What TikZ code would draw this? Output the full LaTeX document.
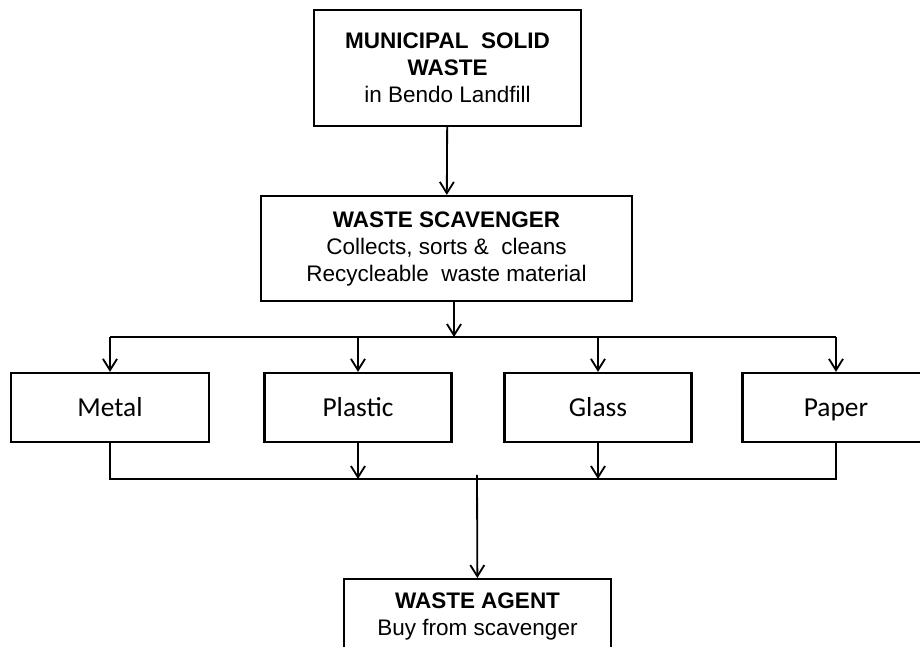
\documentclass[tikz,border=0pt]{standalone}
\usepackage{fontspec}
\setmainfont{Liberation Sans}
\newfontfamily\calibri{Carlito}
\usetikzlibrary{arrows.meta}
\tikzset{
  box/.style={draw, line width=1.6pt, inner sep=0pt, align=center,
    font=\fontsize{16}{19.2}\selectfont},
  bin/.style={draw, line width=1.6pt, inner sep=0pt, minimum width=4.675cm,
    minimum height=1.725cm, text height=12.6pt, text depth=0pt,
    font=\calibri\fontsize{19.5}{23}\selectfont},
  arr/.style={line width=1.3pt, -{Straight Barb[length=8pt,width=10pt,line width=1.3pt]}},
  bus/.style={line width=1.3pt}
}
\begin{document}
\begin{tikzpicture}[x=0.025cm, y=-0.025cm]
        \useasboundingbox (0,0) rectangle (920,646);
        \clip (0,0) rectangle (920,646);

        \node [box, minimum width=6.675cm, minimum height=2.9cm] (msw) at (447.5,68)
          {\textbf{MUNICIPAL~~SOLID}\\\textbf{WASTE}\\in Bendo Landfill};
        \node [box, minimum width=9.275cm, minimum height=2.625cm] (scav) at (446.5,248.5)
          {\textbf{WASTE SCAVENGER}\\Collects, sorts \&~~cleans\\Recycleable~~waste material};

        \node [bin, minimum width=4.95cm] (metal) at (110,407.5) {Metal};
        \node [bin] (plastic) at (358,407.5) {Plastic};
        \node [bin] (glass) at (598,407.5) {Glass};
        \node [bin] (paper) at (836,407.5) {Paper};

        \node [box, minimum width=6.675cm, inner ysep=10pt, anchor=north] (agent) at (477.5,578)
          {\textbf{WASTE AGENT}\\Buy from scavenger};

        \coordinate (split) at (454,337);
        \coordinate (join) at (477,479);

        \draw [arr] (msw) -- (scav);
        \draw [arr] (scav.south -| split) -- (split);
        \draw [bus] (metal.north |- split) -- (paper.north |- split);
        \draw [arr] (metal.north |- split) -- (metal);
        \draw [arr] (plastic.north |- split) -- (plastic);
        \draw [arr] (glass.north |- split) -- (glass);
        \draw [arr] (paper.north |- split) -- (paper);

        \draw [bus] (metal.south) -- (metal.south |- join) -- (paper.south |- join) -- (paper.south);
        \draw [arr] (plastic.south) -- (plastic.south |- join);
        \draw [arr] (glass.south) -- (glass.south |- join);
        \draw [arr] ([yshift=3pt]join) -- (agent);
      \end{tikzpicture}
\end{document}
